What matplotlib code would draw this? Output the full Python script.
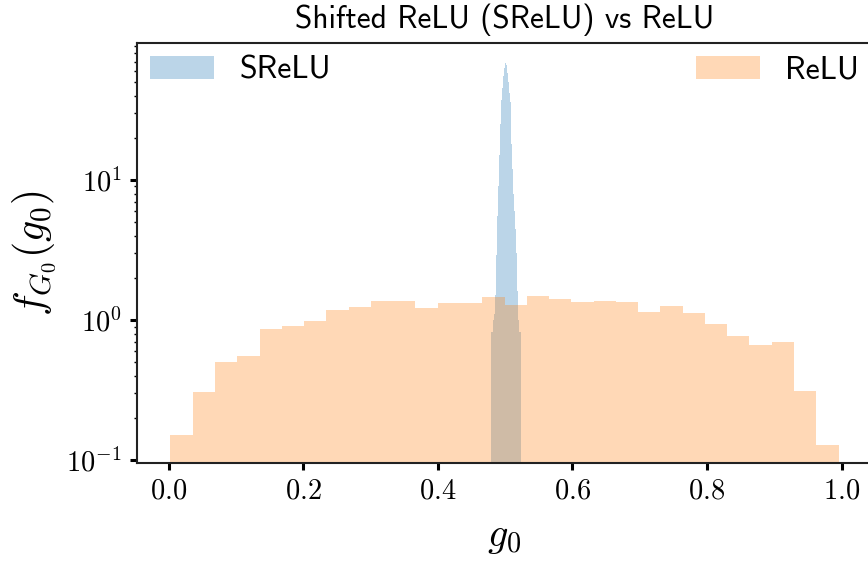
#!/usr/bin/env python3
"""Density of g0 for SReLU vs ReLU, log-scale histogram."""

import matplotlib
matplotlib.use("Agg")
import matplotlib.pyplot as plt
import numpy as np

plt.rcParams["font.family"] = "serif"
plt.rcParams["font.serif"] = ["cmr10"]
plt.rcParams["mathtext.fontset"] = "cm"
plt.rcParams["axes.formatter.use_mathtext"] = True

# ReLU: 30 bins over the observed range of g0
RELU_RANGE = (0.0025, 0.9955)
RELU_DENS = [0.151, 0.307, 0.505, 0.551, 0.863, 0.902, 0.979, 1.178, 1.232, 1.359,
             1.366, 1.218, 1.315, 1.315, 1.459, 1.288, 1.483, 1.411, 1.352, 1.359,
             1.337, 1.135, 1.266, 1.122, 0.936, 0.765, 0.660, 0.693, 0.314, 0.129]

# SReLU: narrow peak around 0.5
SRELU_RANGE = (0.4782, 0.5228)
SRELU_DENS = [0.82, 0.82, 1.0, 1.1, 1.5, 2.9, 5.5, 9.0, 15.0, 25.0,
              37.0, 45.0, 55.0, 63.0, 68.7, 66.0, 58.0, 50.0, 42.0, 36.0,
              18.0, 12.0, 8.0, 6.0, 4.5, 3.0, 1.6, 1.0, 0.82, 0.82]


def hist_from(ax, rng, dens, **kw):
    edges = np.linspace(rng[0], rng[1], len(dens) + 1)
    centers = 0.5 * (edges[:-1] + edges[1:])
    return ax.hist(centers, bins=edges, weights=dens, **kw)


fig = plt.figure(figsize=(8.68, 5.63), dpi=100)
ax = fig.add_axes([137 / 868, 100 / 563, 735 / 868, 420 / 563])

hist_from(ax, SRELU_RANGE, SRELU_DENS, color="#1f77b4", alpha=0.3, label="SReLU")
hist_from(ax, RELU_RANGE, RELU_DENS, color="#ff7f0e", alpha=0.3, label="ReLU")

ax.set_yscale("log")
ax.set_ylim(0.0955, 95)
ax.set_xlim(-0.0472, 1.0452)
ax.set_xticks([0.0, 0.2, 0.4, 0.6, 0.8, 1.0])

ax.set_xlabel(r"$g_0$", fontsize=29, labelpad=11)
ax.set_ylabel(r"$f_{G_0}(g_0)$", fontsize=30, labelpad=5)
ax.set_title("Shifted ReLU (SReLU) vs ReLU", fontfamily="cmss10", fontsize=22.5, pad=11)

ax.tick_params(which="major", labelsize=20.5, length=5, width=2.2, direction="out", pad=6)
ax.tick_params(which="minor", length=2.5, width=1, direction="out")
for sp in ax.spines.values():
    sp.set_linewidth(1.5)
    sp.set_color("#222222")

handles, labels = ax.get_legend_handles_labels()
leg_font = {"family": "cmss10", "size": 23}
leg1 = ax.legend(handles[:1], labels[:1], loc="upper left", frameon=False,
                 prop=leg_font, borderaxespad=0.0, handletextpad=0.8)
ax.add_artist(leg1)
ax.legend(handles[1:], labels[1:], loc="upper right", frameon=False,
          prop=leg_font, borderaxespad=0.0, handletextpad=0.8)

fig.savefig("out.png", dpi=100)
